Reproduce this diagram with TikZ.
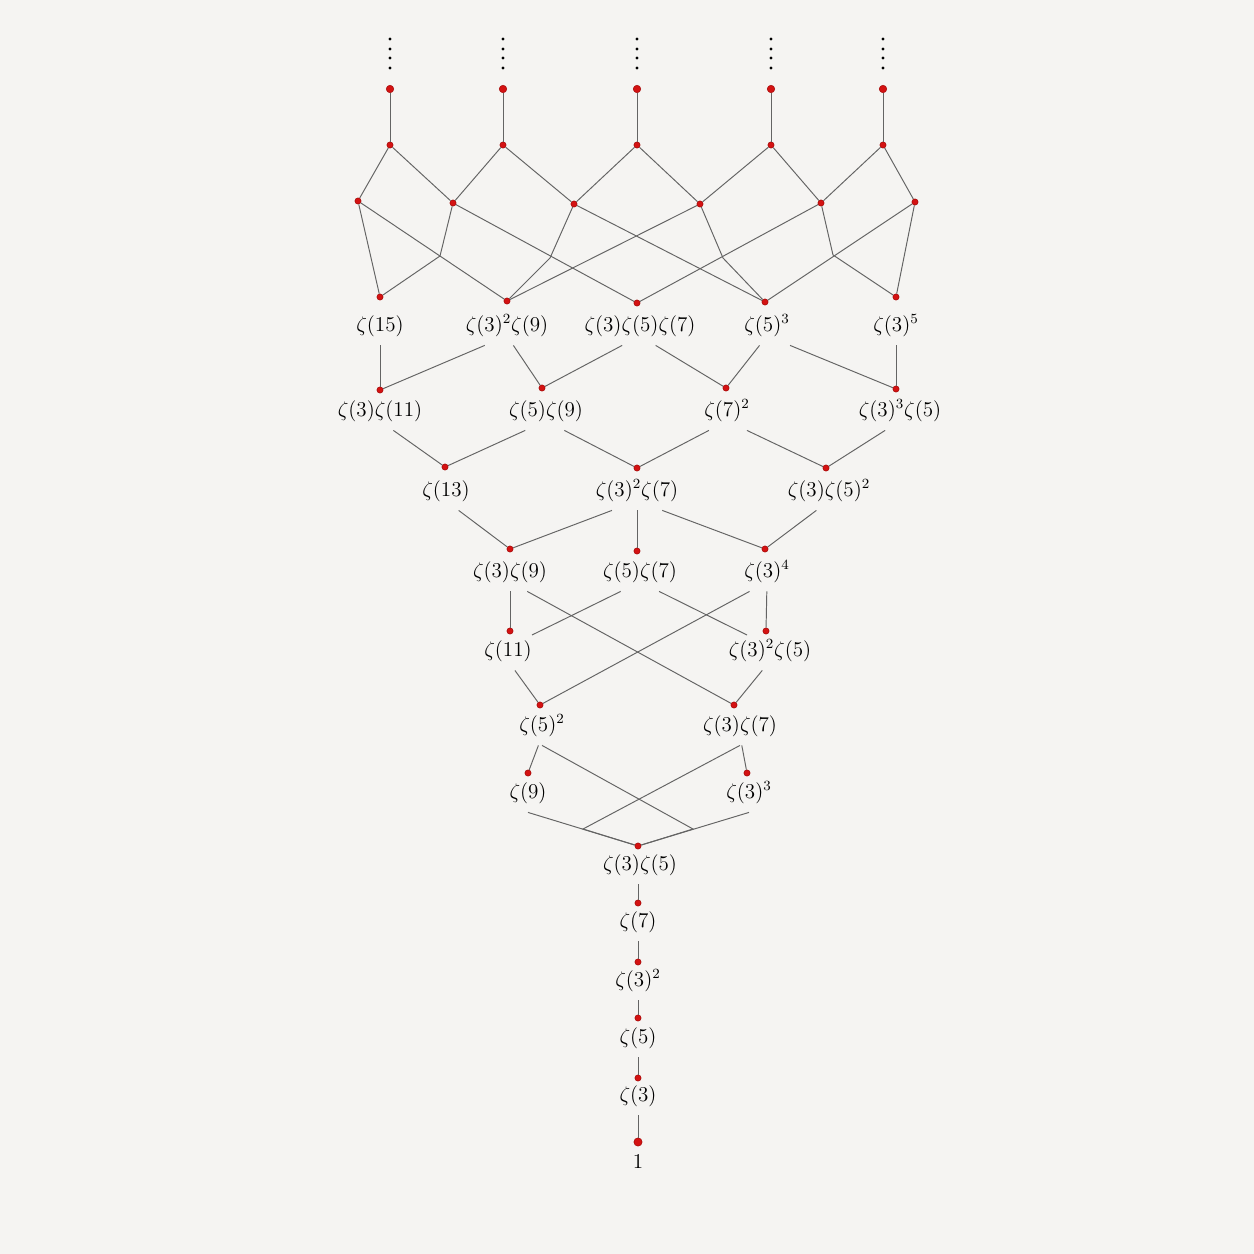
\documentclass[tikz,border=0pt]{standalone}
\definecolor{bg}{RGB}{245,244,242}
\definecolor{dotred}{RGB}{212,18,18}
\definecolor{dotedge}{RGB}{165,10,10}
\definecolor{edgegray}{RGB}{100,100,100}
\begin{document}
\begin{tikzpicture}[x=0.02cm,y=-0.02cm,
  pt/.style={circle,fill=dotred,draw=dotedge,line width=0.3pt,inner sep=0pt,minimum size=0.125cm},
  bigpt/.style={pt,minimum size=0.15cm},
  lab/.style={inner xsep=0.5pt,inner ysep=2pt,text height=0.4pt,text depth=6pt,
    font=\fontsize{11.5pt}{14pt}\selectfont,anchor=base},
  ed/.style={draw=edgegray,line width=0.55pt},
  el/.style={circle,fill=black,inner sep=0pt,minimum size=0.065cm}]
\fill[bg] (0,0) rectangle (1254,1254);
\useasboundingbox (0,0) rectangle (1254,1254);

% ellipsis dots
\foreach \x [count=\i] in {390,503,637,771,883}{
  \foreach \y [count=\j] in {39,49,58,68}{
    \node[el] (e\i\j) at (\x,\y) {};
  }
}

% top unlabeled levels
\node[bigpt] (c1) at (390,89) {};
\node[bigpt] (c2) at (503,89) {};
\node[bigpt] (c3) at (637,89) {};
\node[bigpt] (c4) at (771,89) {};
\node[bigpt] (c5) at (883,89) {};
\node[pt] (b1) at (390,145) {};
\node[pt] (b2) at (503,145) {};
\node[pt] (b3) at (637,145) {};
\node[pt] (b4) at (771,145) {};
\node[pt] (b5) at (883,145) {};
\node[pt] (a1) at (358,201) {};
\node[pt] (a2) at (453,203) {};
\node[pt] (a3) at (574,204) {};
\node[pt] (a4) at (700,204) {};
\node[pt] (a5) at (821,203) {};
\node[pt] (a6) at (915,202) {};

% weight 15
\node[pt] (d15a) at (380,297) {};
\node[pt] (d15b) at (507,301) {};
\node[pt] (d15c) at (637,303) {};
\node[pt] (d15d) at (765,302) {};
\node[pt] (d15e) at (896,297) {};
\node[lab] (l15a) at (380,331) {$\zeta(15)$};
\node[lab] (l15b) at (507,331) {$\zeta(3)^2\zeta(9)$};
\node[lab] (l15c) at (640,331) {$\zeta(3)\zeta(5)\zeta(7)$};
\node[lab] (l15d) at (767,331) {$\zeta(5)^3$};
\node[lab] (l15e) at (896,331) {$\zeta(3)^5$};

% weight 14
\node[pt] (d14a) at (380,390) {};
\node[pt] (d14b) at (542,388) {};
\node[pt] (d14c) at (726,388) {};
\node[pt] (d14d) at (896,389) {};
\node[lab] (l14a) at (380,416) {$\zeta(3)\zeta(11)$};
\node[lab] (l14b) at (546,416) {$\zeta(5)\zeta(9)$};
\node[lab] (l14c) at (727,416) {$\zeta(7)^2$};
\node[lab] (l14d) at (900,416) {$\zeta(3)^3\zeta(5)$};

% weight 13
\node[pt] (d13a) at (445,467) {};
\node[pt] (d13b) at (637,468) {};
\node[pt] (d13c) at (826,468) {};
\node[lab] (l13a) at (446,496) {$\zeta(13)$};
\node[lab] (l13b) at (637,496) {$\zeta(3)^2\zeta(7)$};
\node[lab] (l13c) at (829,496) {$\zeta(3)\zeta(5)^2$};

% weight 12
\node[pt] (d12a) at (510,549) {};
\node[pt] (d12b) at (637,551) {};
\node[pt] (d12c) at (765,549) {};
\node[lab] (l12a) at (510,577) {$\zeta(3)\zeta(9)$};
\node[lab] (l12b) at (640,577) {$\zeta(5)\zeta(7)$};
\node[lab] (l12c) at (767,577) {$\zeta(3)^4$};

% weight 11
\node[pt] (d11a) at (510,631) {};
\node[pt] (d11b) at (766,631) {};
\node[lab] (l11a) at (508,656) {$\zeta(11)$};
\node[lab] (l11b) at (770,656) {$\zeta(3)^2\zeta(5)$};

% weight 10
\node[pt] (d10a) at (540,705) {};
\node[pt] (d10b) at (734,705) {};
\node[lab] (l10a) at (542,731) {$\zeta(5)^2$};
\node[lab] (l10b) at (740,731) {$\zeta(3)\zeta(7)$};

% weight 9
\node[pt] (d9a) at (528,773) {};
\node[pt] (d9b) at (747,773) {};
\node[lab] (l9a) at (528,798) {$\zeta(9)$};
\node[lab] (l9b) at (749,798) {$\zeta(3)^3$};

% chain
\node[pt] (d8) at (638,846) {};
\node[lab] (l8) at (640,870) {$\zeta(3)\zeta(5)$};
\node[pt] (d7) at (638,903) {};
\node[lab] (l7) at (638,927) {$\zeta(7)$};
\node[pt] (d6) at (638,962) {};
\node[lab] (l6) at (638,986) {$\zeta(3)^2$};
\node[pt] (d5) at (638,1018) {};
\node[lab] (l5) at (638,1043) {$\zeta(5)$};
\node[pt] (d3) at (638,1078) {};
\node[lab] (l3) at (638,1101) {$\zeta(3)$};
\node[pt,minimum size=0.165cm] (d1) at (638,1142) {};
\node[lab] (l1) at (638,1168) {$1$};

% bend points and free ends
\coordinate (x1) at (440,256);
\coordinate (x2) at (550,258);
\coordinate (x3) at (723,258);
\coordinate (x4) at (833,255);
\coordinate (x5) at (693,829);
\coordinate (x6) at (583,829);
\coordinate (y1) at (532,635);
\coordinate (y2) at (747,635);

% top edges
\foreach \i in {1,...,5}{ \draw[ed] (c\i) -- (b\i); }
\draw[ed] (b1) -- (a1); \draw[ed] (b1) -- (a2);
\draw[ed] (b2) -- (a2); \draw[ed] (b2) -- (a3);
\draw[ed] (b3) -- (a3); \draw[ed] (b3) -- (a4);
\draw[ed] (b4) -- (a4); \draw[ed] (b4) -- (a5);
\draw[ed] (b5) -- (a5); \draw[ed] (b5) -- (a6);

\draw[ed] (a1) -- (d15a); \draw[ed] (a1) -- (d15b);
\draw[ed] (a2) -- (x1) -- (d15a); \draw[ed] (a2) -- (d15c);
\draw[ed] (a3) -- (x2) -- (d15b); \draw[ed] (a3) -- (d15d);
\draw[ed] (a4) -- (d15b); \draw[ed] (a4) -- (x3) -- (d15d);
\draw[ed] (a5) -- (d15c); \draw[ed] (a5) -- (x4) -- (d15e);
\draw[ed] (a6) -- (d15d); \draw[ed] (a6) -- (d15e);

% 15 -> 14
\draw[ed] (l15a) -- (d14a);
\draw[ed] (l15b) -- (d14a); \draw[ed] (l15b) -- (d14b);
\draw[ed] (l15c) -- (d14b); \draw[ed] (l15c) -- (d14c);
\draw[ed] (l15d) -- (d14c); \draw[ed] (l15d) -- (d14d);
\draw[ed] (l15e) -- (d14d);

% 14 -> 13
\draw[ed] (l14a) -- (d13a);
\draw[ed] (l14b) -- (d13a); \draw[ed] (l14b) -- (d13b);
\draw[ed] (l14c) -- (d13b); \draw[ed] (l14c) -- (d13c);
\draw[ed] (l14d) -- (d13c);

% 13 -> 12
\draw[ed] (l13a) -- (d12a);
\draw[ed] (l13b) -- (d12a); \draw[ed] (l13b) -- (d12b); \draw[ed] (l13b) -- (d12c);
\draw[ed] (l13c) -- (d12c);

% 12 -> 11, 10
\draw[ed] (l12a) -- (d11a); \draw[ed] (l12a) -- (d10b);
\draw[ed] (l12b) -- (y1); \draw[ed] (l12b) -- (y2);
\draw[ed] (l12c) -- (d11b); \draw[ed] (l12c) -- (d10a);

% 11 -> 10
\draw[ed] (l11a) -- (d10a);
\draw[ed] (l11b) -- (d10b);

% 10 -> 9, 8
\draw[ed] (l10a) -- (d9a); \draw[ed] (l10a.south) -- (x5) -- (d8);
\draw[ed] (l10b) -- (d9b); \draw[ed] (l10b.south) -- (x6) -- (d8);

% 9 -> 8
\draw[ed] (l9a.south) -- (d8);
\draw[ed] (l9b.south) -- (d8);

% chain
\draw[ed] (l8.south -| d7) -- (d7);
\draw[ed] (l7) -- (d6);
\draw[ed] (l6) -- (d5);
\draw[ed] (l5) -- (d3);
\draw[ed] (l3) -- (d1);
\end{tikzpicture}
\end{document}
